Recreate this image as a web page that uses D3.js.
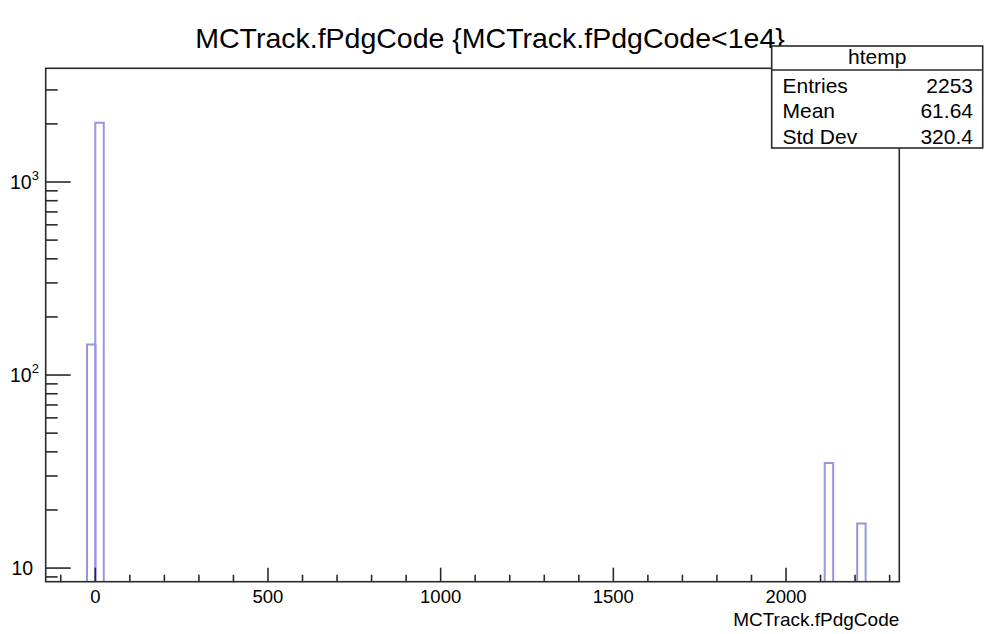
<!DOCTYPE html>
<html>
<head>
<meta charset="utf-8">
<script src="https://cdn.jsdelivr.net/npm/d3@7"></script>
<style>
  html, body { margin: 0; padding: 0; background: #fff; }
  svg { display: block; font-family: "Liberation Sans", Arial, Helvetica, sans-serif; }
</style>
</head>
<body>
<svg id="chart" width="986" height="634"></svg>
<script>
// ---- data ----
const titleText = "MCTrack.fPdgCode {MCTrack.fPdgCode<1e4}";
const xAxisTitle = "MCTrack.fPdgCode";
const binLow = [-24, 0, 2112, 2206];
const binCounts = [144, 2030, 35, 17];
const binWidth = 24.5;
const xDomain = [-143.6, 2328];
const yDomain = [8.5, 3882];
const xMajorTicks = [0, 500, 1000, 1500, 2000];
const xMinorTicks = [-100, 100, 200, 300, 400, 600, 700, 800, 900, 1100, 1200, 1300, 1400, 1600, 1700, 1800, 1900, 2100, 2200, 2300];
const yMajorTicks = [10, 100, 1000];
const yMajorExp = ["", "2", "3"];
const yMinorTicks = [9, 20, 30, 40, 50, 60, 70, 80, 90, 200, 300, 400, 500, 600, 700, 800, 900, 2000, 3000];
const statsTitle = "htemp";
const statsLabels = ["Entries", "Mean", "Std Dev"];
const statsValues = ["2253", "61.64", "320.4"];

// ---- layout ----
const svg = d3.select("#chart");
const L = 45.7, R = 899.3, T = 68.3, B = 581.7;
const x = d3.scaleLinear().domain(xDomain).range([L, R]);
const y = d3.scaleLog().domain(yDomain).range([B, T]);

// title
svg.append("text").attr("x", 490).attr("y", 48)
  .attr("text-anchor", "middle").attr("font-size", 28.5).attr("fill", "#000")
  .text(titleText);

// histogram (step outline)
svg.append("defs").append("clipPath").attr("id", "clip")
  .append("rect").attr("x", L).attr("y", T).attr("width", R - L).attr("height", B - T);
const hist = svg.append("g").attr("clip-path", "url(#clip)");

// group contiguous bins into step paths
const bins = binLow.map((lo, i) => ({lo, hi: lo + binWidth, n: binCounts[i]}));
const groups = [];
bins.forEach(b => {
  const g = groups[groups.length - 1];
  if (g && Math.abs(g[g.length - 1].hi - b.lo) < 1e-6) g.push(b); else groups.push([b]);
});
groups.forEach(g => {
  const p = d3.path();
  p.moveTo(x(g[0].lo), B);
  g.forEach(b => { p.lineTo(x(b.lo), y(b.n)); p.lineTo(x(b.hi), y(b.n)); });
  p.lineTo(x(g[g.length - 1].hi), B);
  hist.append("path").attr("d", p.toString())
    .attr("fill", "none").attr("stroke", "#9696e4").attr("stroke-width", 2);
});

// frame
svg.append("rect").attr("x", L).attr("y", T).attr("width", R - L).attr("height", B - T)
  .attr("fill", "none").attr("stroke", "#2a2a2a").attr("stroke-width", 1.6);

// x ticks (drawn upward inside frame)
const tickG = svg.append("g").attr("stroke", "#2a2a2a").attr("stroke-width", 1.6);
xMajorTicks.forEach(v => tickG.append("line").attr("x1", x(v)).attr("x2", x(v)).attr("y1", B).attr("y2", B - 14));
xMinorTicks.forEach(v => tickG.append("line").attr("x1", x(v)).attr("x2", x(v)).attr("y1", B).attr("y2", B - 7));
xMajorTicks.forEach(v => svg.append("text").attr("x", x(v)).attr("y", 603)
  .attr("text-anchor", "middle").attr("font-size", 18.5).text(v));

// y ticks (drawn rightward inside frame)
yMajorTicks.forEach(v => tickG.append("line").attr("x1", L).attr("x2", L + 25).attr("y1", y(v)).attr("y2", y(v)));
yMinorTicks.forEach(v => tickG.append("line").attr("x1", L).attr("x2", L + 12).attr("y1", y(v)).attr("y2", y(v)));
yMajorTicks.forEach((v, i) => {
  const t = svg.append("text").attr("y", y(v) + 7).attr("font-size", 19.5);
  if (yMajorExp[i]) {
    t.attr("x", 10);
    t.append("tspan").text("10");
    t.append("tspan").attr("dy", -9).attr("font-size", 13).text(yMajorExp[i]);
  } else {
    t.attr("x", 11.5).text("10");
  }
});

// x axis title
svg.append("text").attr("x", R).attr("y", 626).attr("text-anchor", "end")
  .attr("font-size", 19).text(xAxisTitle);

// stats box
const sx0 = 771.7, sx1 = 982.7, sy0 = 46, sy1 = 148, sh = 70;
svg.append("rect").attr("x", sx0).attr("y", sy0).attr("width", sx1 - sx0).attr("height", sy1 - sy0)
  .attr("fill", "#fff").attr("stroke", "#2a2a2a").attr("stroke-width", 1.6);
svg.append("line").attr("x1", sx0).attr("x2", sx1).attr("y1", sh).attr("y2", sh)
  .attr("stroke", "#2a2a2a").attr("stroke-width", 1.6);
svg.append("text").attr("x", (sx0 + sx1) / 2).attr("y", 64).attr("text-anchor", "middle")
  .attr("font-size", 21).text(statsTitle);
const rowY = [93, 118, 144];
statsLabels.forEach((lab, i) => {
  svg.append("text").attr("x", 782.5).attr("y", rowY[i]).attr("font-size", 21).text(lab);
  svg.append("text").attr("x", 973).attr("y", rowY[i]).attr("text-anchor", "end")
    .attr("font-size", 21).text(statsValues[i]);
});
</script>
</body>
</html>
